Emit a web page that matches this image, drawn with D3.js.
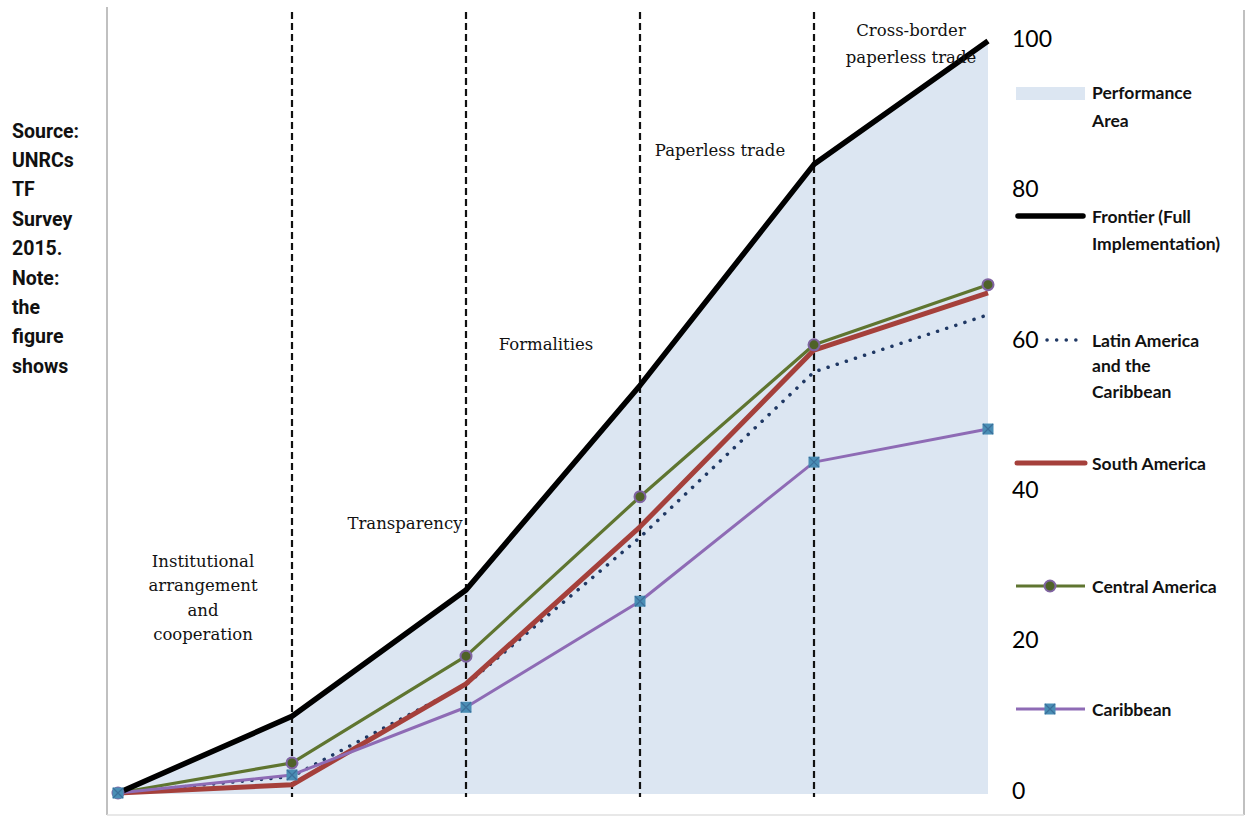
<!DOCTYPE html>
<html><head><meta charset="utf-8">
<script src="https://cdn.jsdelivr.net/npm/d3@7"></script>
<style>
body{margin:0;background:#fff;}
svg{display:block;}
</style></head>
<body>
<svg id="chart" width="1249" height="816"></svg>
<script>
// ---- data ----
const stages = [0, 1, 2, 3, 4, 5];
const frontier = [0, 10.2, 27, 54.2, 83.6, 100];
const latinAmerica = [0, 2.2, 14.4, 34, 56, 63.6];
const southAmerica = [0, 1.1, 14.5, 35.4, 58.9, 66.5];
const centralAmerica = [0, 4, 18.2, 39.4, 59.6, 67.6];
const caribbean = [0, 2.4, 11.4, 25.5, 44, 48.4];
const yTicks = [0, 20, 40, 60, 80, 100];
const stageLabels = [
  ["Institutional", "arrangement", "and", "cooperation"],
  ["Transparency"],
  ["Formalities"],
  ["Paperless trade"],
  ["Cross-border", "paperless trade"]
];
const noteLines = ["Source:", "UNRCs", "TF", "Survey", "2015.", "Note:", "the", "figure", "shows"];
const legendLabels = [
  ["Performance", "Area"],
  ["Frontier (Full", "Implementation)"],
  ["Latin America", "and the", "Caribbean"],
  ["South America"],
  ["Central America"],
  ["Caribbean"]
];

const svg = d3.select("#chart");
const x = d3.scaleLinear().domain([0, 5]).range([118, 988]);
const y = d3.scaleLinear().domain([0, 100]).range([793, 41]);

const C = {
  area: "#dce6f2", frontier: "#000", latin: "#1f3864", south: "#a5403b",
  central: "#5f7530", centralMarker: "#4f6228", markerEdge: "#8064a2",
  carib: "#8e6bb5", caribMarker: "#4a8eb5", frame: "#c0c0c0"
};

// frame
svg.append("line").attr("x1",107).attr("x2",107).attr("y1",7).attr("y2",815).attr("stroke",C.frame).attr("stroke-width",2);
svg.append("line").attr("x1",1244).attr("x2",1244).attr("y1",10).attr("y2",815).attr("stroke",C.frame).attr("stroke-width",2);
svg.append("line").attr("x1",107).attr("x2",1244).attr("y1",815).attr("y2",815).attr("stroke","#e0e0e0").attr("stroke-width",1.5);

// area
const area = d3.area().x((d,i)=>x(stages[i])).y0(y(0)+1).y1(d=>y(d));
svg.append("path").datum(frontier).attr("d", area).attr("fill", C.area);

// dashed dividers
svg.selectAll("line.div").data(stages.slice(1,5)).join("line")
  .attr("class","div").attr("x1",d=>x(d)).attr("x2",d=>x(d))
  .attr("y1",12).attr("y2",797).attr("stroke","#111").attr("stroke-width",2.2)
  .attr("stroke-dasharray","7,4");

const line = d3.line().x((d,i)=>x(stages[i])).y(d=>y(d));

// series
svg.append("path").datum(latinAmerica).attr("d",line).attr("fill","none")
  .attr("stroke",C.latin).attr("stroke-width",3.5).attr("stroke-linecap","round")
  .attr("stroke-dasharray","0.1,9.5");
svg.append("path").datum(southAmerica).attr("d",line).attr("fill","none")
  .attr("stroke",C.south).attr("stroke-width",5).attr("stroke-linejoin","round");
svg.append("path").datum(centralAmerica).attr("d",line).attr("fill","none")
  .attr("stroke",C.central).attr("stroke-width",3.2).attr("stroke-linejoin","round");
svg.append("path").datum(caribbean).attr("d",line).attr("fill","none")
  .attr("stroke",C.carib).attr("stroke-width",3).attr("stroke-linejoin","round");
svg.append("path").datum(frontier).attr("d",line).attr("fill","none")
  .attr("stroke",C.frontier).attr("stroke-width",5.5).attr("stroke-linejoin","round");

// markers
function circleMarker(g, cx, cy){
  g.append("circle").attr("cx",cx).attr("cy",cy).attr("r",5.5)
    .attr("fill",C.centralMarker).attr("stroke",C.markerEdge).attr("stroke-width",2);
}
function squareMarker(g, cx, cy){
  g.append("rect").attr("x",cx-5.5).attr("y",cy-5.5).attr("width",11).attr("height",11)
    .attr("fill",C.caribMarker);
  g.append("path").attr("d",`M${cx-5},${cy-5}L${cx+5},${cy+5}M${cx+5},${cy-5}L${cx-5},${cy+5}`)
    .attr("stroke","#3b6f9a").attr("stroke-width",1.2);
}
const mg = svg.append("g");
centralAmerica.forEach((d,i)=>circleMarker(mg, x(stages[i]), y(d)));
caribbean.forEach((d,i)=>squareMarker(mg, x(stages[i]), y(d)));

// y axis on the right
const yAxis = d3.axisRight(y).tickValues(yTicks).tickSize(0).tickPadding(12);
const ya = svg.append("g").attr("transform","translate(1000,-2)").call(yAxis);
ya.select(".domain").remove();
ya.selectAll("text").attr("font-family","Lato, 'Open Sans', sans-serif")
  .attr("font-size",23).attr("fill","#000");

// stage labels
const stagePos = [
  {cx: 203, y0: 561}, {cx: 405, y0: 523}, {cx: 546, y0: 344},
  {cx: 720, y0: 150}, {cx: 911, y0: 30}
];
const lineH = [24.5, 0, 0, 0, 27];
stageLabels.forEach((lines,i)=>{
  const t = svg.append("text").attr("text-anchor","middle")
    .attr("font-family","'DejaVu Serif', 'Liberation Serif', serif")
    .attr("font-size",16.5).attr("fill","#111");
  lines.forEach((s,j)=>{
    t.append("tspan").attr("x",stagePos[i].cx).attr("y",stagePos[i].y0 + j*lineH[i])
      .attr("dominant-baseline","central").text(s);
  });
});

// left note
const note = svg.append("text").attr("font-family","Roboto, 'Liberation Sans', sans-serif")
  .attr("font-weight","bold").attr("font-size",19.5).attr("fill","#111");
noteLines.forEach((s,j)=>{
  note.append("tspan").attr("x",12).attr("y",131 + j*29.4).attr("dominant-baseline","central").text(s);
});

// legend
const legY = [92, 216, 340, 463, 586, 709];
const lg = svg.append("g");
lg.append("rect").attr("x",1016).attr("y",87).attr("width",69).attr("height",13).attr("fill",C.area);
lg.append("line").attr("x1",1018).attr("x2",1083).attr("y1",legY[1]).attr("y2",legY[1])
  .attr("stroke","#000").attr("stroke-width",5.5).attr("stroke-linecap","round");
lg.append("line").attr("x1",1047).attr("x2",1084).attr("y1",legY[2]).attr("y2",legY[2])
  .attr("stroke",C.latin).attr("stroke-width",3.5).attr("stroke-linecap","round").attr("stroke-dasharray","0.1,9.5");
lg.append("line").attr("x1",1017).attr("x2",1085).attr("y1",legY[3]).attr("y2",legY[3])
  .attr("stroke",C.south).attr("stroke-width",5).attr("stroke-linecap","round");
lg.append("line").attr("x1",1016).attr("x2",1085).attr("y1",legY[4]).attr("y2",legY[4])
  .attr("stroke",C.central).attr("stroke-width",3.2);
circleMarker(lg, 1050, legY[4]);
lg.append("line").attr("x1",1016).attr("x2",1085).attr("y1",legY[5]).attr("y2",legY[5])
  .attr("stroke",C.carib).attr("stroke-width",3);
squareMarker(lg, 1050, legY[5]);

legendLabels.forEach((lines,i)=>{
  const t = lg.append("text").attr("font-family","Lato, 'Open Sans', sans-serif")
    .attr("font-weight","bold").attr("font-size",17.5).attr("fill","#111");
  const lh = i===2 ? 25.5 : (i===1 ? 27 : 28);
  lines.forEach((s,j)=>{
    t.append("tspan").attr("x",1092).attr("y",legY[i] + j*lh).attr("dominant-baseline","central").text(s);
  });
});
</script>
</body></html>
